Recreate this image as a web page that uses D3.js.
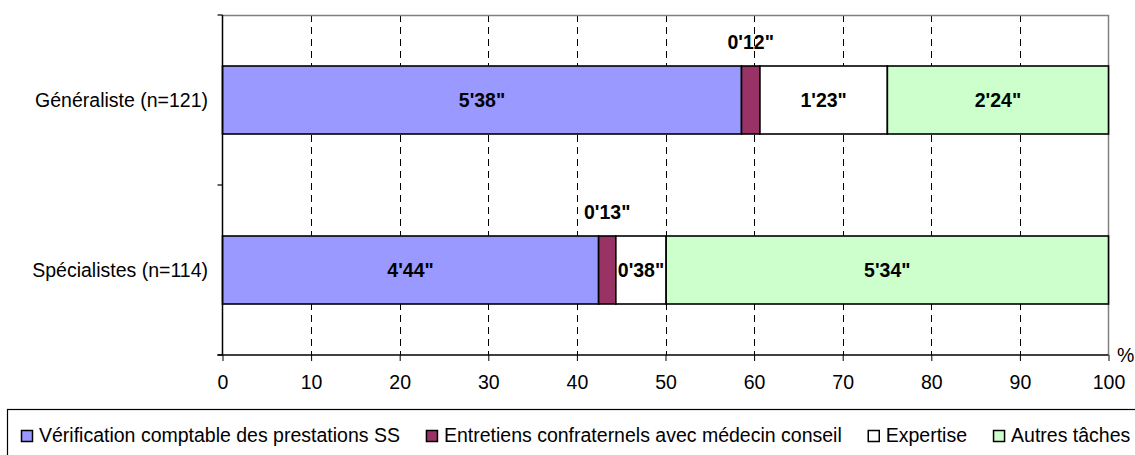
<!DOCTYPE html>
<html><head><meta charset="utf-8">
<script src="https://cdn.jsdelivr.net/npm/d3@7"></script>
<style>
html,body{margin:0;padding:0;background:#fff;}
svg{display:block;font-family:"Liberation Sans",Arial,sans-serif;}
</style></head>
<body>
<svg id="chart" width="1135" height="455"></svg>
<script>
const categories = ["Généraliste (n=121)", "Spécialistes (n=114)"];
const seriesNames = ["Vérification comptable des prestations SS", "Entretiens confraternels avec médecin conseil", "Expertise", "Autres tâches"];
const seriesColors = ["#9999FF", "#993366", "#FFFFFF", "#CCFFCC"];
// durations in seconds (labels shown as m'ss")
const verification = [338, 284];
const entretiens = [12, 13];
const expertise = [83, 38];
const autres = [144, 334];
const xTicks = [0, 10, 20, 30, 40, 50, 60, 70, 80, 90, 100];

(function () {
const keys = ["verification", "entretiens", "expertise", "autres"];
const rows = categories.map((c, i) => ({cat: c, verification: verification[i], entretiens: entretiens[i], expertise: expertise[i], autres: autres[i]}));
const stack = d3.stack().keys(keys).offset(d3.stackOffsetExpand);
const series = stack(rows);

const svg = d3.select("#chart");
const FS = 19.5;
const pL = 222.5, pR = 1108.5, pT = 15, pB = 355;
const x = d3.scaleLinear().domain([0, 100]).range([pL, pR]);
const y = d3.scaleBand().domain(categories).range([pT, pB]).padding(0);
const barH = 68;
const fmt = s => Math.floor(s / 60) + "'" + String(s % 60).padStart(2, "0") + '"';

// grid lines
svg.append("g").selectAll("line").data(xTicks.filter(t => t > 0 && t < 100)).join("line")
  .attr("x1", d => Math.round(x(d)) + 0.5).attr("x2", d => Math.round(x(d)) + 0.5)
  .attr("y1", pT).attr("y2", pB)
  .attr("stroke", "#000").attr("stroke-width", 1).attr("stroke-dasharray", "7,5");

// plot border top/right gray
svg.append("path").attr("d", `M${pL},${pT + 0.5}H${pR}V${pB}`)
  .attr("fill", "none").attr("stroke", "#808080").attr("stroke-width", 1.5);

// bars
const g = svg.append("g");
series.forEach((s, si) => {
  g.selectAll(null).data(s).join("rect")
    .attr("x", d => x(d[0] * 100))
    .attr("width", d => x(d[1] * 100) - x(d[0] * 100))
    .attr("y", d => y(d.data.cat) + (y.bandwidth() - barH) / 2)
    .attr("height", barH)
    .attr("fill", seriesColors[si])
    .attr("stroke", "#000").attr("stroke-width", 1.6);
});

// value labels
series.forEach((s, si) => {
  s.forEach(d => {
    const secs = d.data[s.key];
    const label = fmt(secs);
    const cx = (x(d[0] * 100) + x(d[1] * 100)) / 2;
    const w = x(d[1] * 100) - x(d[0] * 100);
    const barTop = y(d.data.cat) + (y.bandwidth() - barH) / 2;
    const t = g.append("text").text(label)
      .attr("x", cx).attr("text-anchor", "middle")
      .attr("font-size", FS).attr("font-weight", "bold").attr("fill", "#000")
      .attr("dominant-baseline", "central");
    const tw = t.node().getComputedTextLength();
    if (tw > w) t.attr("y", barTop - 24);
    else t.attr("y", barTop + barH / 2);
  });
});

// x axis
const xAxis = d3.axisBottom(x).tickValues(xTicks).tickSize(6).tickPadding(14).tickSizeOuter(0);
const xg = svg.append("g").attr("transform", `translate(0,${pB})`).call(xAxis);
xg.select(".domain").attr("stroke", "#000").attr("stroke-width", 1.5).attr("d", `M${pL - 5},0H${pR}`);
xg.selectAll(".tick line").attr("stroke", "#000");
xg.selectAll(".tick text").attr("font-size", FS).attr("font-family", "Liberation Sans, Arial, sans-serif").attr("fill", "#000");

svg.append("text").text("%").attr("x", 1117).attr("y", 362)
  .attr("font-size", FS).attr("fill", "#000");

// y axis
svg.append("line").attr("x1", pL).attr("x2", pL).attr("y1", pT).attr("y2", pB)
  .attr("stroke", "#000").attr("stroke-width", 1.5);
const yTickPos = [pT, ...categories.slice(1).map(c => y(c)), pB];
svg.append("g").selectAll("line").data(yTickPos).join("line")
  .attr("x1", pL - 5).attr("x2", pL).attr("y1", d => d).attr("y2", d => d)
  .attr("stroke", "#000").attr("stroke-width", 1.2);
svg.append("g").selectAll("text").data(categories).join("text")
  .text(d => d)
  .attr("x", 208).attr("y", d => y(d) + y.bandwidth() / 2)
  .attr("text-anchor", "end").attr("dominant-baseline", "central")
  .attr("font-size", FS).attr("fill", "#000");

// legend
svg.append("rect").attr("x", 7.5).attr("y", 409.5).attr("width", 1140).attr("height", 60)
  .attr("fill", "#fff").attr("stroke", "#000").attr("stroke-width", 1.2);
const lg = svg.append("g");
let lx = 21;
const sq = 11;
seriesNames.forEach((n, i) => {
  lg.append("rect").attr("x", lx + 0.5).attr("y", 430.5).attr("width", sq).attr("height", sq)
    .attr("fill", seriesColors[i]).attr("stroke", "#000").attr("stroke-width", 1.5);
  const t = lg.append("text").text(n).attr("x", lx + 18).attr("y", 442)
    .attr("font-size", FS).attr("fill", "#000");
  lx += 18 + t.node().getComputedTextLength() + 26;
});
})();
</script>
</body></html>
